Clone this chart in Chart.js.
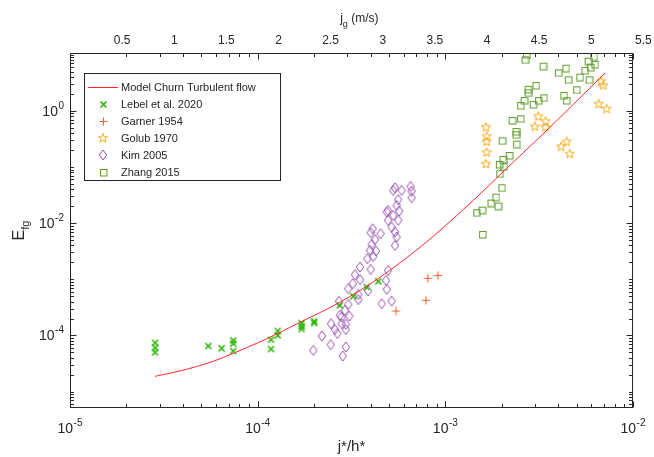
<!DOCTYPE html>
<html>
<head>
<meta charset="utf-8">
<script src="https://cdn.jsdelivr.net/npm/chart.js@4.4.1/dist/chart.umd.min.js"></script>
<style>
  html, body { margin: 0; padding: 0; background: #ffffff; }
  #wrap { width: 654px; height: 457px; position: relative; }
</style>
</head>
<body>
<div id="wrap"><canvas id="c" width="654" height="457"></canvas></div>
<script>
// ---------------- data ----------------
const seriesLabels = ['Model Churn Turbulent flow', 'Lebel et al. 2020', 'Garner 1954', 'Golub 1970', 'Kim 2005', 'Zhang 2015'];

const modelX = [2.84e-5, 3.85e-5, 5.80e-5, 7.41e-5, 1.117e-4, 1.68e-4, 2.74e-4, 4.48e-4, 7.32e-4, 9.36e-4, 1.41e-3, 2.12e-3, 3.19e-3, 4.80e-3, 7.09e-3];
const modelY = [1.87e-5, 2.33e-5, 3.46e-5, 4.81e-5, 8.70e-5, 1.71e-4, 3.88e-4, 1.08e-3, 3.70e-3, 7.41e-3, 2.54e-2, 9.40e-2, 0.342, 1.29, 4.71];

const lebelX = [2.84e-5, 2.84e-5, 2.84e-5, 5.46e-5, 6.43e-5, 7.41e-5, 7.41e-5, 7.41e-5, 1.178e-4, 1.178e-4, 1.279e-4, 1.279e-4, 1.715e-4, 1.715e-4, 1.715e-4, 2.0e-4, 2.0e-4, 2.74e-4, 3.23e-4, 3.81e-4, 4.39e-4];
const lebelY = [7.38e-5, 6.02e-5, 5.0e-5, 6.48e-5, 5.89e-5, 8.18e-5, 7.15e-5, 5.28e-5, 8.41e-5, 5.73e-5, 1.20e-4, 1.0e-4, 1.66e-4, 1.45e-4, 1.30e-4, 1.78e-4, 1.66e-4, 3.43e-4, 4.96e-4, 7.26e-4, 9.18e-4];

const garnerX = [5.46e-4, 7.88e-4, 8.07e-4, 9.13e-4];
const garnerY = [2.72e-4, 4.21e-4, 1.04e-3, 1.17e-3];

const golubX = [1.645e-3, 1.66e-3, 1.66e-3, 1.66e-3, 1.645e-3, 3.13e-3, 3.00e-3, 3.42e-3, 3.42e-3, 4.43e-3, 4.14e-3, 4.60e-3, 6.75e-3, 6.94e-3, 6.56e-3, 7.23e-3];
const golubY = [0.511, 0.353, 0.284, 0.183, 0.114, 0.80, 0.526, 0.653, 0.511, 0.284, 0.232, 0.172, 3.36, 2.85, 1.33, 1.09];

const kimX = [5.28e-4, 5.39e-4, 5.85e-4, 6.53e-4, 6.61e-4, 6.61e-4, 5.61e-4, 5.50e-4, 4.96e-4, 4.87e-4,
              5.68e-4, 5.28e-4, 4.96e-4, 5.61e-4, 5.17e-4, 5.39e-4, 5.50e-4, 5.39e-4, 4.10e-4, 4.00e-4,
              4.52e-4, 4.22e-4, 4.05e-4, 3.97e-4, 4.27e-4, 4.13e-4, 3.84e-4, 3.51e-4, 4.00e-4, 4.96e-4,
              3.30e-4, 3.51e-4, 4.83e-4, 3.21e-4, 3.04e-4, 4.87e-4, 3.88e-4, 3.44e-4, 3.44e-4, 4.58e-4,
              5.17e-4, 2.71e-4, 3.04e-4, 2.92e-4, 3.08e-4, 2.80e-4, 2.46e-4, 2.80e-4, 2.95e-4, 2.58e-4,
              2.66e-4, 2.95e-4, 2.20e-4, 2.45e-4, 1.98e-4, 2.95e-4, 2.84e-4, 2.74e-4];
const kimY = [3.82e-2, 4.26e-2, 3.82e-2, 4.50e-2, 3.71e-2, 2.83e-2, 2.61e-2, 2.07e-2, 1.68e-2, 1.57e-2,
              1.64e-2, 1.37e-2, 1.12e-2, 1.12e-2, 8.49e-3, 6.92e-3, 5.64e-3, 4.01e-3, 7.95e-3, 6.75e-3,
              6.48e-3, 5.07e-3, 4.18e-3, 3.27e-3, 3.18e-3, 2.55e-3, 2.33e-3, 1.65e-3, 1.50e-3, 1.44e-3,
              1.21e-3, 9.84e-4, 9.55e-4, 8.35e-4, 6.81e-4, 6.61e-4, 6.17e-4, 5.38e-4, 4.34e-4, 3.68e-4,
              4.09e-4, 4.04e-4, 3.57e-4, 2.80e-4, 2.21e-4, 2.12e-4, 1.62e-4, 1.62e-4, 1.58e-4, 1.27e-4,
              1.08e-4, 1.27e-4, 9.76e-5, 6.86e-5, 5.43e-5, 6.22e-5, 4.30e-5, 2.28e-4];

const zhangX = [2.71e-3, 2.66e-3, 3.32e-3, 6.19e-3, 5.77e-3, 6.27e-3, 5.94e-3, 5.54e-3, 4.39e-3, 4.00e-3,
                5.21e-3, 5.84e-3, 4.52e-3, 3.04e-3, 2.76e-3, 2.76e-3, 5.01e-3, 4.28e-3, 4.43e-3, 3.35e-3,
                3.14e-3, 2.63e-3, 2.94e-3, 2.52e-3, 2.52e-3, 2.27e-3, 2.38e-3, 2.38e-3, 2.40e-3, 2.01e-3,
                2.19e-3, 2.03e-3, 1.94e-3, 2.05e-3, 1.95e-3, 2.0e-3, 1.86e-3, 1.75e-3, 1.91e-3, 1.57e-3,
                1.47e-3, 1.58e-3];
const zhangY = [10.0, 8.08, 6.22, 9.25, 7.63, 6.67, 5.97, 5.21, 5.73, 4.74,
                3.96, 3.56, 3.56, 2.82, 2.42, 2.09, 2.36, 1.87, 1.52, 1.70,
                1.52, 1.52, 1.29, 1.24, 0.721, 0.672, 0.428, 0.374, 0.255, 0.292,
                0.160, 0.136, 0.111, 0.101, 7.57e-2, 4.26e-2, 2.90e-2, 2.27e-2, 2.01e-2, 1.70e-2,
                1.53e-2, 6.29e-3];

// tick labels
const xTickValues = [1e-5, 1e-4, 1e-3, 1e-2];
const xTickExponents = ['-5', '-4', '-3', '-2'];
const yTickValues = [1e-4, 1e-2, 1];
const yTickExponents = ['-4', '-2', '0'];
const topTickValues = [0.5, 1, 1.5, 2, 2.5, 3, 3.5, 4, 4.5, 5, 5.5];
const topTickLabels = ['0.5', '1', '1.5', '2', '2.5', '3', '3.5', '4', '4.5', '5', '5.5'];

// ---------------- styles ----------------
const FONT = "'Liberation Sans', Arial, Helvetica, sans-serif";
const AXIS_COLOR = '#262626';
const COL_MODEL = 'rgb(255,40,40)';
const COL_LEBEL = 'rgb(40,180,0)';
const COL_GARNER = 'rgb(240,95,45)';
const COL_GOLUB = 'rgb(250,170,20)';
const COL_KIM = 'rgb(150,80,175)';
const COL_ZHANG = 'rgb(95,155,40)';

function makeMarker(w, h, draw) {
  const c = document.createElement('canvas');
  c.width = w; c.height = h;
  const g = c.getContext('2d');
  draw(g, w, h);
  return c;
}
const mkLebel = makeMarker(9, 9, (g) => {
  g.strokeStyle = COL_LEBEL; g.lineWidth = 1.6;
  g.beginPath(); g.moveTo(1.5, 1.5); g.lineTo(7.5, 7.5); g.moveTo(7.5, 1.5); g.lineTo(1.5, 7.5); g.stroke();
});
const mkGarner = makeMarker(11, 11, (g) => {
  g.strokeStyle = COL_GARNER; g.lineWidth = 1.1;
  g.beginPath(); g.moveTo(5.5, 1.5); g.lineTo(5.5, 9.5); g.moveTo(1.5, 5.5); g.lineTo(9.5, 5.5); g.stroke();
});
const mkGolub = makeMarker(12, 12, (g) => {
  g.strokeStyle = COL_GOLUB; g.lineWidth = 1;
  g.beginPath();
  for (let i = 0; i < 10; i++) {
    const r = (i % 2 === 0) ? 4.8 : 2.0;
    const a = -Math.PI / 2 + i * Math.PI / 5;
    const px = 6 + r * Math.cos(a), py = 6.3 + r * Math.sin(a);
    if (i === 0) g.moveTo(px, py); else g.lineTo(px, py);
  }
  g.closePath(); g.stroke();
});
const mkKim = makeMarker(10, 12, (g) => {
  g.strokeStyle = COL_KIM; g.lineWidth = 1;
  g.beginPath(); g.moveTo(5, 1.0); g.lineTo(8.7, 6); g.lineTo(5, 11.0); g.lineTo(1.3, 6); g.closePath(); g.stroke();
});
const mkZhang = makeMarker(9, 9, (g) => {
  g.strokeStyle = COL_ZHANG; g.lineWidth = 1;
  g.strokeRect(1.5, 1.5, 6.5, 6.5);
});

function pts(xs, ys) { return xs.map((v, i) => ({ x: v, y: ys[i] })); }

const datasets = [
  { label: seriesLabels[0], data: pts(modelX, modelY), showLine: true, borderColor: COL_MODEL, borderWidth: 1,
    pointRadius: 0, cubicInterpolationMode: 'monotone', fill: false, legendMarker: null },
  { label: seriesLabels[1], data: pts(lebelX, lebelY), pointStyle: mkLebel, pointRadius: 4, showLine: false, legendMarker: mkLebel },
  { label: seriesLabels[2], data: pts(garnerX, garnerY), pointStyle: mkGarner, pointRadius: 4, showLine: false, legendMarker: mkGarner },
  { label: seriesLabels[3], data: pts(golubX, golubY), pointStyle: mkGolub, pointRadius: 4, showLine: false, legendMarker: mkGolub },
  { label: seriesLabels[4], data: pts(kimX, kimY), pointStyle: mkKim, pointRadius: 4, showLine: false, legendMarker: mkKim },
  { label: seriesLabels[5], data: pts(zhangX, zhangY), pointStyle: mkZhang, pointRadius: 4, showLine: false, legendMarker: mkZhang }
];

function drawPow(ctx, exp, x, y, align) {
  ctx.font = '14px ' + FONT;
  const w1 = ctx.measureText('10').width;
  ctx.font = '10px ' + FONT;
  const w2 = ctx.measureText(exp).width;
  const total = w1 + w2 + 0.5;
  const x0 = align === 'center' ? x - total / 2 : x - total;
  ctx.textAlign = 'left';
  ctx.textBaseline = 'alphabetic';
  ctx.font = '14px ' + FONT;
  ctx.fillText('10', x0, y + 5);
  ctx.font = '10px ' + FONT;
  ctx.fillText(exp, x0 + w1 + 0.5, y - 2);
}

const decorPlugin = {
  id: 'decor',
  afterDatasetsDraw(chart) {
    const ctx = chart.ctx;
    const a = chart.chartArea;
    const xs = chart.scales.x, ys = chart.scales.y, x2 = chart.scales.x2;
    const L = Math.round(a.left) + 0.5, R = Math.round(a.right) - 0.5;
    const T = Math.round(a.top) + 0.5, B = Math.round(a.bottom) - 0.5;
    ctx.save();
    ctx.strokeStyle = AXIS_COLOR;
    ctx.fillStyle = AXIS_COLOR;
    ctx.lineWidth = 1;
    ctx.strokeRect(L, T, R - L, B - T);
    ctx.beginPath();
    for (let n = -6; n <= 2; n++) {
      for (let k = 1; k <= 9; k++) {
        const v = k * Math.pow(10, n);
        if (v < xs.min * 0.9999 || v > xs.max * 1.0001) continue;
        const p = Math.round(xs.getPixelForValue(v)) + 0.5;
        const len = (k === 1) ? 6 : 3.5;
        ctx.moveTo(p, B); ctx.lineTo(p, B - len);
        ctx.moveTo(p, T); ctx.lineTo(p, T + len);
      }
    }
    for (let n = -7; n <= 2; n++) {
      for (let k = 1; k <= 9; k++) {
        const v = k * Math.pow(10, n);
        if (v < ys.min * 0.9999 || v > ys.max * 1.0001) continue;
        const p = Math.round(ys.getPixelForValue(v)) + 0.5;
        const major = yTickValues.some(t => Math.abs(t - v) / t < 1e-6);
        const len = major ? 6 : 3.5;
        ctx.moveTo(L, p); ctx.lineTo(L + len, p);
        ctx.moveTo(R, p); ctx.lineTo(R - len, p);
      }
    }
    ctx.stroke();

    xTickValues.forEach((v, i) => drawPow(ctx, xTickExponents[i], xs.getPixelForValue(v), 428, 'center'));
    yTickValues.forEach((v, i) => drawPow(ctx, yTickExponents[i], a.left - 6, ys.getPixelForValue(v), 'right'));
    ctx.font = '12px ' + FONT;
    ctx.textAlign = 'center';
    ctx.textBaseline = 'middle';
    topTickValues.forEach((v, i) => ctx.fillText(topTickLabels[i], x2.getPixelForValue(v), 41));

    ctx.font = '15px ' + FONT;
    ctx.textAlign = 'center';
    ctx.textBaseline = 'middle';
    ctx.fillText('j*/h*', (a.left + a.right) / 2, 447);

    const tcx = (x2.getPixelForValue(0) + x2.getPixelForValue(5.55)) / 2;
    ctx.font = '12px ' + FONT;
    const wj = ctx.measureText('j').width;
    ctx.font = '9px ' + FONT;
    const wg = ctx.measureText('g').width;
    ctx.font = '12px ' + FONT;
    const wr = ctx.measureText(' (m/s)').width;
    const tx = tcx - (wj + wg + wr) / 2;
    ctx.textAlign = 'left';
    ctx.textBaseline = 'alphabetic';
    ctx.fillText('j', tx, 22);
    ctx.font = '9px ' + FONT;
    ctx.fillText('g', tx + wj, 27);
    ctx.font = '12px ' + FONT;
    ctx.fillText(' (m/s)', tx + wj + wg, 22);

    ctx.save();
    ctx.translate(24, (a.top + a.bottom) / 2);
    ctx.rotate(-Math.PI / 2);
    ctx.font = '16px ' + FONT;
    const wE = ctx.measureText('E').width;
    ctx.font = '11px ' + FONT;
    const wfg = ctx.measureText('fg').width;
    const ex = -(wE + wfg) / 2;
    ctx.font = '16px ' + FONT;
    ctx.fillText('E', ex, 0);
    ctx.font = '11px ' + FONT;
    ctx.fillText('fg', ex + wE, 5);
    ctx.restore();

    const bx = 84.5, by = 73.5, bw = 196, bh = 107;
    ctx.fillStyle = '#ffffff';
    ctx.fillRect(bx, by, bw, bh);
    ctx.strokeStyle = AXIS_COLOR;
    ctx.lineWidth = 1;
    ctx.strokeRect(bx, by, bw, bh);
    const rowY0 = 87, rowStep = 16.9;
    chart.data.datasets.forEach((ds, i) => {
      const ry = Math.round(rowY0 + i * rowStep);
      if (!ds.legendMarker) {
        ctx.strokeStyle = ds.borderColor;
        ctx.lineWidth = 1;
        ctx.beginPath(); ctx.moveTo(88, ry + 0.5); ctx.lineTo(118, ry + 0.5); ctx.stroke();
      } else {
        const m = ds.legendMarker;
        ctx.drawImage(m, Math.round(103 - m.width / 2), Math.round(ry - m.height / 2));
      }
      ctx.fillStyle = AXIS_COLOR;
      ctx.font = '11px ' + FONT;
      ctx.textAlign = 'left';
      ctx.textBaseline = 'middle';
      ctx.fillText(ds.label, 121, ry + 0.5);
    });
    ctx.restore();
  }
};

function zeroSize(scale) {
  if (scale.isHorizontal()) scale.height = 0; else scale.width = 0;
}

new Chart(document.getElementById('c'), {
  type: 'scatter',
  data: { datasets: datasets },
  options: {
    responsive: false,
    animation: false,
    devicePixelRatio: 1,
    layout: { padding: { left: 70, right: 21, top: 53, bottom: 49 } },
    plugins: { legend: { display: false }, tooltip: { enabled: false }, title: { display: false } },
    elements: { line: { tension: 0 } },
    scales: {
      x: { type: 'logarithmic', position: 'bottom', min: 1e-5, max: 1e-2, bounds: 'data',
           ticks: { display: false }, grid: { display: false }, border: { display: false }, afterFit: zeroSize },
      y: { type: 'logarithmic', position: 'left', min: 5.1e-6, max: 10.7, bounds: 'data',
           ticks: { display: false }, grid: { display: false }, border: { display: false }, afterFit: zeroSize },
      x2: { type: 'linear', position: 'top', min: 0, max: 5.4, bounds: 'data',
            ticks: { display: false }, grid: { display: false }, border: { display: false }, afterFit: zeroSize }
    }
  },
  plugins: [decorPlugin]
});
</script>
</body>
</html>
